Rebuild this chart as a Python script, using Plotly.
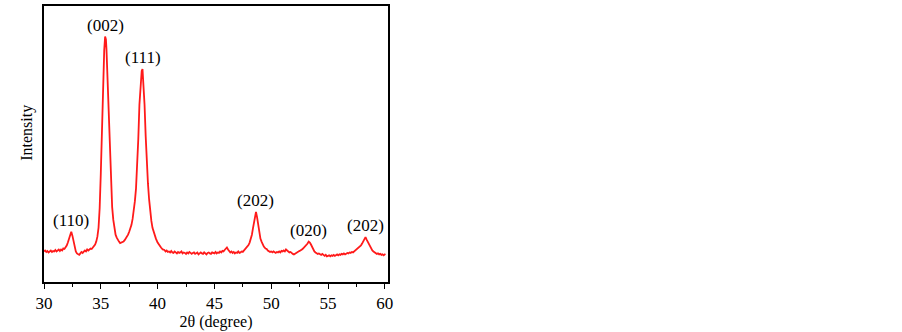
import plotly.graph_objects as go

# ── Data ─────────────────────────────────────────────────────────────────────
two_theta = [
    30.0, 30.1, 30.2, 30.3, 30.4, 30.5, 30.6, 30.7, 30.8, 30.9,
    31.0, 31.1, 31.2, 31.3, 31.4, 31.5, 31.6, 31.7, 31.8, 31.9,
    32.0, 32.1, 32.2, 32.3, 32.4, 32.5, 32.6, 32.7, 32.8, 32.9,
    33.0, 33.1, 33.2, 33.3, 33.4, 33.5, 33.6, 33.7, 33.8, 33.9,
    34.0, 34.1, 34.2, 34.3, 34.4, 34.5, 34.6, 34.7, 34.8, 34.9,
    35.0, 35.1, 35.2, 35.3, 35.38, 35.45, 35.5, 35.6, 35.7, 35.8, 35.9,
    36.0, 36.1, 36.2, 36.3, 36.4, 36.5, 36.6, 36.7, 36.8, 36.9,
    37.0, 37.1, 37.2, 37.3, 37.4, 37.5, 37.6, 37.7, 37.8, 37.9,
    38.0, 38.1, 38.2, 38.3, 38.4, 38.5, 38.6, 38.67, 38.75, 38.85, 38.95,
    39.05, 39.15, 39.25, 39.35, 39.45, 39.55, 39.7, 39.85,
    40.0, 40.15, 40.3, 40.45, 40.6, 40.7, 40.8, 40.9,
    41.0, 41.1, 41.2, 41.3, 41.4, 41.5, 41.6, 41.7, 41.8, 41.9,
    42.0, 42.1, 42.2, 42.3, 42.4, 42.5, 42.6, 42.7, 42.8, 42.9,
    43.0, 43.1, 43.2, 43.3, 43.4, 43.5, 43.6, 43.7, 43.8, 43.9,
    44.0, 44.1, 44.2, 44.3, 44.4, 44.5, 44.6, 44.7, 44.8, 44.9,
    45.0, 45.1, 45.2, 45.3, 45.4, 45.5, 45.6, 45.7, 45.8, 45.9,
    46.0, 46.1, 46.2, 46.3, 46.4, 46.5, 46.6, 46.7, 46.8, 46.9,
    47.0, 47.1, 47.2, 47.3, 47.4, 47.5, 47.6, 47.7, 47.8, 47.9,
    48.0, 48.1, 48.2, 48.3, 48.4, 48.5, 48.6, 48.66, 48.75, 48.85, 48.95,
    49.05, 49.15, 49.25, 49.35, 49.5, 49.6, 49.7, 49.8, 49.9,
    50.0, 50.1, 50.2, 50.3, 50.4, 50.5, 50.6, 50.7, 50.8, 50.9,
    51.0, 51.1, 51.2, 51.3, 51.4, 51.5, 51.6, 51.7, 51.8, 51.9,
    52.0, 52.1, 52.2, 52.3, 52.4, 52.5, 52.6, 52.7, 52.8, 52.9,
    53.0, 53.1, 53.2, 53.3, 53.4, 53.5, 53.6, 53.7, 53.8, 53.9,
    54.0, 54.1, 54.2, 54.3, 54.4, 54.5, 54.6, 54.7, 54.8, 54.9,
    55.0, 55.1, 55.2, 55.3, 55.4, 55.5, 55.6, 55.7, 55.8, 55.9,
    56.0, 56.1, 56.2, 56.3, 56.4, 56.5, 56.6, 56.7, 56.8, 56.9,
    57.0, 57.1, 57.2, 57.3, 57.4, 57.5, 57.6, 57.7, 57.8, 57.9,
    58.0, 58.1, 58.2, 58.3, 58.4, 58.5, 58.6, 58.7, 58.8, 58.9,
    59.0, 59.1, 59.2, 59.3, 59.4, 59.5, 59.6, 59.7, 59.8, 59.9,
    60.0, 60.05,
]

intensity = [
    31, 32, 30.5, 31.5, 30, 31, 32, 30.5, 31.5, 31,
    32.5, 31, 32, 33, 31.5, 33, 32, 34, 33.5, 35,
    37, 40, 44, 48, 51, 47, 41, 35, 31, 29,
    28, 27.5, 29, 30.5, 29.5, 31, 32, 31, 33, 32,
    33.5, 34, 33.5, 35, 36, 38, 41, 46, 55, 75,
    110, 155, 200, 235, 249, 246, 236, 205, 165, 128, 98,
    76, 63, 54, 48, 45, 42, 41, 39.5, 40, 40.5,
    41, 42.5, 44, 45.5, 48, 51, 54, 58, 64, 72,
    82, 95, 115, 145, 180, 205, 214, 216, 203, 180, 148,
    120, 100, 84, 70, 62, 55, 49, 44,
    40, 37, 35, 33, 32.5, 31, 32, 30.5,
    31, 30, 31.5, 30, 29.5, 31, 30, 29, 30.5, 29.5,
    30, 31, 29, 30, 29.5, 28.5, 30, 29, 30.5, 29,
    28.5, 29.5, 30, 28.5, 29.5, 30, 28, 29, 30, 29,
    28.5, 30, 29, 28, 29.5, 30, 29, 28.5, 30, 29.5,
    29, 30.5, 29, 30, 29.5, 31, 30, 31.5, 31, 32.5,
    33.5, 35, 33, 31, 30, 31, 29.5, 30.5, 29, 30,
    29.5, 31, 29.5, 30, 31, 30.5, 32, 33, 34, 36,
    37.5, 40, 43, 48, 55, 63, 69, 71, 66, 57, 49,
    44, 41, 38, 36, 34, 33.5, 32, 31.5, 30.5,
    31, 30, 31, 30, 29.5, 30.5, 30, 31, 30, 31.5,
    31, 32, 31, 33, 32, 31, 30, 30.5, 29, 28.5,
    28, 29, 29.5, 30, 31, 31.5, 32, 33, 34, 35,
    36, 37.5, 39, 41, 40, 38, 35, 33, 31, 30,
    29.5, 28.5, 29, 28, 27.5, 28.5, 27, 26.5, 27.5, 26,
    26.5, 27, 26, 27, 26.5, 27.5, 26.5, 27, 28, 27,
    28, 27.5, 28.5, 28, 29, 28, 29, 29.5, 29, 30,
    29.5, 30.5, 30, 31, 31.5, 32, 33, 34, 35.5, 37,
    39, 41.5, 44, 45.5, 43, 40.5, 38, 36, 34, 32,
    31, 30, 29, 28.5, 29, 28, 28.5, 27.5, 28, 27,
    28, 27.5,
]

peak_labels = ["(110)", "(002)", "(111)", "(202)", "(020)", "(202)"]
peak_pos = [32.4, 35.42, 38.67, 48.66, 53.3, 58.3]
peak_height = [51, 249, 216, 71, 41, 45.5]

x_ticks = [30, 35, 40, 45, 50, 55, 60]

SERIF = "Liberation Serif"

fig = go.Figure()

# ── XRD pattern ──────────────────────────────────────────────────────────────
fig.add_trace(go.Scatter(
    x=two_theta, y=intensity,
    mode="lines",
    line=dict(color="#ff1a1a", width=1.8),
    showlegend=False, hoverinfo="skip",
))

# ── Peak labels ──────────────────────────────────────────────────────────────
for label, px, py in zip(peak_labels, peak_pos, peak_height):
    fig.add_annotation(
        x=px, y=py, text=label,
        showarrow=False, yanchor="bottom", yshift=0,
        font=dict(family=SERIF, size=17, color="black"),
    )

# y title placed by hand (slightly above plot centre, as in the source)
fig.add_annotation(
    xref="paper", yref="paper", x=-0.082, y=0.54,
    text="Intensity", textangle=-90, showarrow=False,
    font=dict(family=SERIF, size=16, color="black"),
)

fig.update_layout(
    width=902, height=332,
    margin=dict(l=44, r=514, t=4, b=48),
    paper_bgcolor="white", plot_bgcolor="white",
    xaxis=dict(
        range=[30, 60.28],
        tickvals=x_ticks,
        ticks="outside", ticklen=5, tickwidth=1.2, tickcolor="black",
        minor=dict(dtick=2.5, tick0=30, ticks="outside", ticklen=3, tickwidth=1, tickcolor="black"),
        showline=True, linecolor="black", linewidth=2, mirror=True,
        showgrid=False, zeroline=False,
        tickfont=dict(family=SERIF, size=17, color="black"),
        title=dict(text="2θ (degree)", standoff=3,
                   font=dict(family=SERIF, size=16, color="black")),
    ),
    yaxis=dict(
        range=[0, 280],
        showticklabels=False, ticks="",
        showline=True, linecolor="black", linewidth=2, mirror=True,
        showgrid=False, zeroline=False,
    ),
)

# page body has a default 8px margin; drop it so the figure sits at the corner
fig.write_html(
    "out.html",
    config={"displayModeBar": False},
    post_script="document.body.style.margin='0';",
)
